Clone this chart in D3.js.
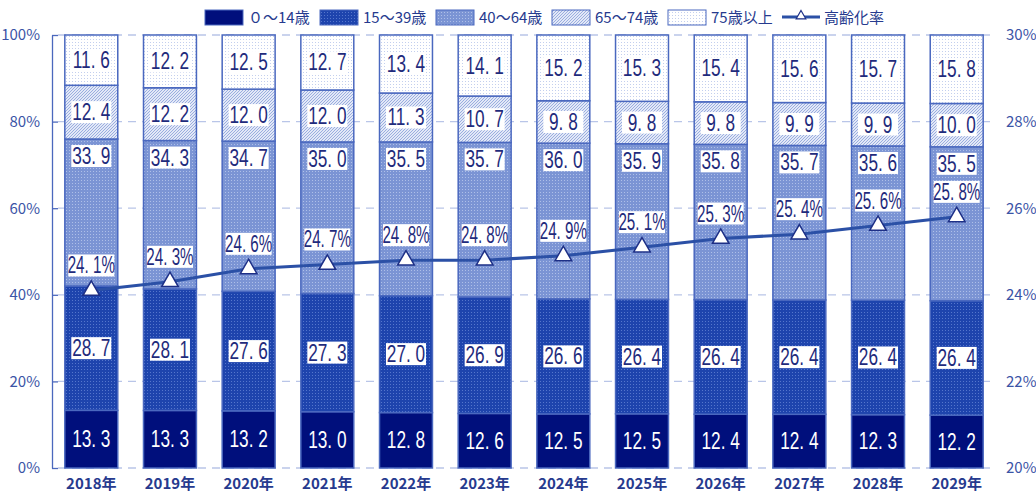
<!DOCTYPE html>
<head>
    <meta charset="utf-8">
    <script src="https://d3js.org/d3.v7.min.js"></script>
    <style>
        body { margin: 0; background: #fff; }
        text { font-family: "Noto Sans CJK JP", "Noto Sans", sans-serif; }
        .grid line { stroke: #b9c5e8; stroke-dasharray: 8 6; stroke-width: 1.3; }
        .tick-lbl { fill: #3b54a6; font-size: 15px; }
        .xlbl { fill: #263a8e; font-size: 15px; font-weight: 700; }
        .leg { fill: #263a8e; font-size: 15px; }
        .val { font-family: "Liberation Sans", sans-serif; font-size: 23px; }
    </style>
</head>
<body>
    <div id="chart-container"></div>
</body>
<script>
    var years = ["2018年", "2019年", "2020年", "2021年", "2022年", "2023年",
                 "2024年", "2025年", "2026年", "2027年", "2028年", "2029年"];
    var groups = ["０～14歳", "15～39歳", "40～64歳", "65～74歳", "75歳以上"];
    var age0_14  = [13.3, 13.3, 13.2, 13.0, 12.8, 12.6, 12.5, 12.5, 12.4, 12.4, 12.3, 12.2];
    var age15_39 = [28.7, 28.1, 27.6, 27.3, 27.0, 26.9, 26.6, 26.4, 26.4, 26.4, 26.4, 26.4];
    var age40_64 = [33.9, 34.3, 34.7, 35.0, 35.5, 35.7, 36.0, 35.9, 35.8, 35.7, 35.6, 35.5];
    var age65_74 = [12.4, 12.2, 12.0, 12.0, 11.3, 10.7, 9.8, 9.8, 9.8, 9.9, 9.9, 10.0];
    var age75up  = [11.6, 12.2, 12.5, 12.7, 13.4, 14.1, 15.2, 15.3, 15.4, 15.6, 15.7, 15.8];
    var agingRate = [24.1, 24.3, 24.6, 24.7, 24.8, 24.8, 24.9, 25.1, 25.3, 25.4, 25.6, 25.8];
    var lineName = "高齢化率";
    var leftTicks = [0, 20, 40, 60, 80, 100];
    var rightTicks = [20, 22, 24, 26, 28, 30];

    var width = 1036, height = 492;
    var plotTop = 35, plotBottom = 468, plotLeft = 52, plotRight = 996;

    var svg = d3.select("#chart-container").append("svg")
        .attr("width", width)
        .attr("height", height);

    // patterns for the bar fills
    var defs = svg.append("defs");
    function pattern(id, w, h, bg, draw) {
        var p = defs.append("pattern").attr("id", id)
            .attr("patternUnits", "userSpaceOnUse")
            .attr("width", w).attr("height", h);
        p.append("rect").attr("width", w).attr("height", h).attr("fill", bg);
        draw(p);
    }
    pattern("p1", 3, 3, "#1e44ad", function(p){
        p.append("rect").attr("width", 1).attr("height", 1).attr("fill", "#5576cc");
    });
    pattern("p2", 3, 3, "#7b94d4", function(p){
        p.append("rect").attr("width", 1).attr("height", 1).attr("fill", "#aebfe8");
    });
    pattern("p3", 3, 3, "#e2e8f7", function(p){
        p.append("path").attr("d", "M0,3 L3,0 M-1,1 L1,-1 M2,4 L4,2")
            .attr("stroke", "#9aaddf").attr("stroke-width", 1);
    });
    pattern("p4", 3, 3, "#ffffff", function(p){
        p.append("rect").attr("width", 1).attr("height", 1).attr("fill", "#c3cfee");
    });
    var fills = ["#000f7c", "url(#p1)", "url(#p2)", "url(#p3)", "url(#p4)"];

    // data table for stacking
    var seriesArr = [age0_14, age15_39, age40_64, age65_74, age75up];
    var table = years.map(function(yr, i){
        var row = { year: yr };
        groups.forEach(function(g, k){ row[g] = seriesArr[k][i]; });
        return row;
    });
    var stacked = d3.stack().keys(groups).offset(d3.stackOffsetExpand)(table);

    var x = d3.scaleBand().domain(years).range([plotLeft, plotRight])
        .paddingInner(0.327).paddingOuter(0.163);
    var y = d3.scaleLinear().domain([0, 1]).range([plotBottom, plotTop]);
    var y2 = d3.scaleLinear().domain([20, 30]).range([plotBottom, plotTop]);

    // grid
    svg.append("g").attr("class", "grid")
        .selectAll("line").data(leftTicks).enter().append("line")
        .attr("x1", plotLeft + 6).attr("x2", plotRight)
        .attr("y1", function(d){ return y(d / 100); })
        .attr("y2", function(d){ return y(d / 100); });

    // left axis
    var yAxis = d3.axisLeft(y).tickValues(leftTicks.map(function(d){ return d / 100; }))
        .tickSize(-6).tickSizeOuter(0).tickPadding(12)
        .tickFormat(function(d){ return Math.round(d * 100) + "%"; });
    var gy = svg.append("g").attr("transform", "translate(" + plotLeft + ",0)").call(yAxis);
    gy.attr("font-size", null).attr("font-family", null);
    gy.select(".domain").attr("stroke", "#4b68bd").attr("stroke-width", 1.3);
    gy.selectAll(".tick line").attr("stroke", "#4b68bd").attr("stroke-width", 1.3);
    gy.selectAll(".tick text").attr("class", "tick-lbl").attr("fill", null);

    // right axis
    var yAxis2 = d3.axisRight(y2).tickValues(rightTicks).tickSize(0).tickPadding(10)
        .tickFormat(function(d){ return d + "%"; });
    var gy2 = svg.append("g").attr("transform", "translate(" + plotRight + ",0)").call(yAxis2);
    gy2.attr("font-size", null).attr("font-family", null);
    gy2.select(".domain").remove();
    gy2.selectAll(".tick text").attr("class", "tick-lbl").attr("fill", null);

    // bars
    svg.append("g").selectAll("g").data(stacked).enter().append("g")
        .attr("fill", function(d, i){ return fills[i]; })
        .selectAll("rect").data(function(d){ return d; }).enter().append("rect")
        .attr("x", function(d){ return x(d.data.year); })
        .attr("width", x.bandwidth())
        .attr("y", function(d){ return y(d[1]); })
        .attr("height", function(d){ return y(d[0]) - y(d[1]); })
        .attr("stroke", "#4a68bf").attr("stroke-width", 1.5);

    // x labels
    svg.append("g").selectAll("text").data(years).enter().append("text")
        .attr("class", "xlbl")
        .attr("x", function(d){ return x(d) + x.bandwidth() / 2; })
        .attr("y", 489)
        .attr("text-anchor", "middle")
        .text(function(d){ return d; });

    // value labels with white boxes
    var lbl = svg.append("g");
    function label(cx, cy, txt, boxW, boxColor, txtColor, sx) {
        if (boxColor) {
            lbl.append("rect").attr("x", cx - boxW / 2).attr("y", cy - 11)
                .attr("width", boxW).attr("height", 22).attr("fill", boxColor);
        }
        lbl.append("text").attr("class", "val")
            .attr("transform", "translate(" + cx + "," + (cy + 8) + ") scale(" + sx + ",1)")
            .attr("text-anchor", "middle")
            .attr("fill", txtColor)
            .text(txt);
    }
    stacked.forEach(function(s, k){
        s.forEach(function(d, i){
            var cx = x(d.data.year) + x.bandwidth() / 2;
            var cy = (k === 2) ? y(d[1]) + 17 : (y(d[0]) + y(d[1])) / 2;
            var txt = seriesArr[k][i].toFixed(1).replace(".", ". ");
            if (k === 0) label(cx, cy, txt, 40, null, "#ffffff", 0.75);
            else label(cx, cy, txt, 40, "#ffffff", "#1f2b7c", 0.75);
        });
    });

    // aging rate line
    var line = d3.line()
        .x(function(d, i){ return x(years[i]) + x.bandwidth() / 2; })
        .y(function(d){ return y2(d); });
    svg.append("path").datum(agingRate)
        .attr("d", line).attr("fill", "none")
        .attr("stroke", "#2b50a6").attr("stroke-width", 3);
    var tri = d3.symbol().type(d3.symbolTriangle).size(120);
    svg.append("g").selectAll("path").data(agingRate).enter().append("path")
        .attr("d", tri)
        .attr("transform", function(d, i){
            return "translate(" + (x(years[i]) + x.bandwidth() / 2) + "," + y2(d) + ")";
        })
        .attr("fill", "#fff").attr("stroke", "#1d2f86").attr("stroke-width", 1.5);
    lbl = svg.append("g");
    agingRate.forEach(function(d, i){
        label(x(years[i]) + x.bandwidth() / 2, y2(d) - 25,
              d.toFixed(1).replace(".", ". ") + "%", 46, "#ffffff", "#1f2b7c", 0.66);
    });

    // legend
    var leg = svg.append("g");
    var legX = [205, 320, 436, 552, 668];
    groups.forEach(function(g, k){
        leg.append("rect").attr("x", legX[k]).attr("y", 10).attr("width", 38).attr("height", 15)
            .attr("fill", fills[k]).attr("stroke", "#4a68bf").attr("stroke-width", 1);
        leg.append("text").attr("class", "leg").attr("x", legX[k] + 43).attr("y", 23).text(g);
    });
    leg.append("line").attr("x1", 782).attr("x2", 820).attr("y1", 17).attr("y2", 17)
        .attr("stroke", "#2b50a6").attr("stroke-width", 3);
    leg.append("path").attr("d", d3.symbol().type(d3.symbolTriangle).size(40))
        .attr("transform", "translate(801,16)")
        .attr("fill", "#fff").attr("stroke", "#1d2f86").attr("stroke-width", 1.2);
    leg.append("text").attr("class", "leg").attr("x", 824).attr("y", 23).text(lineName);
</script>
